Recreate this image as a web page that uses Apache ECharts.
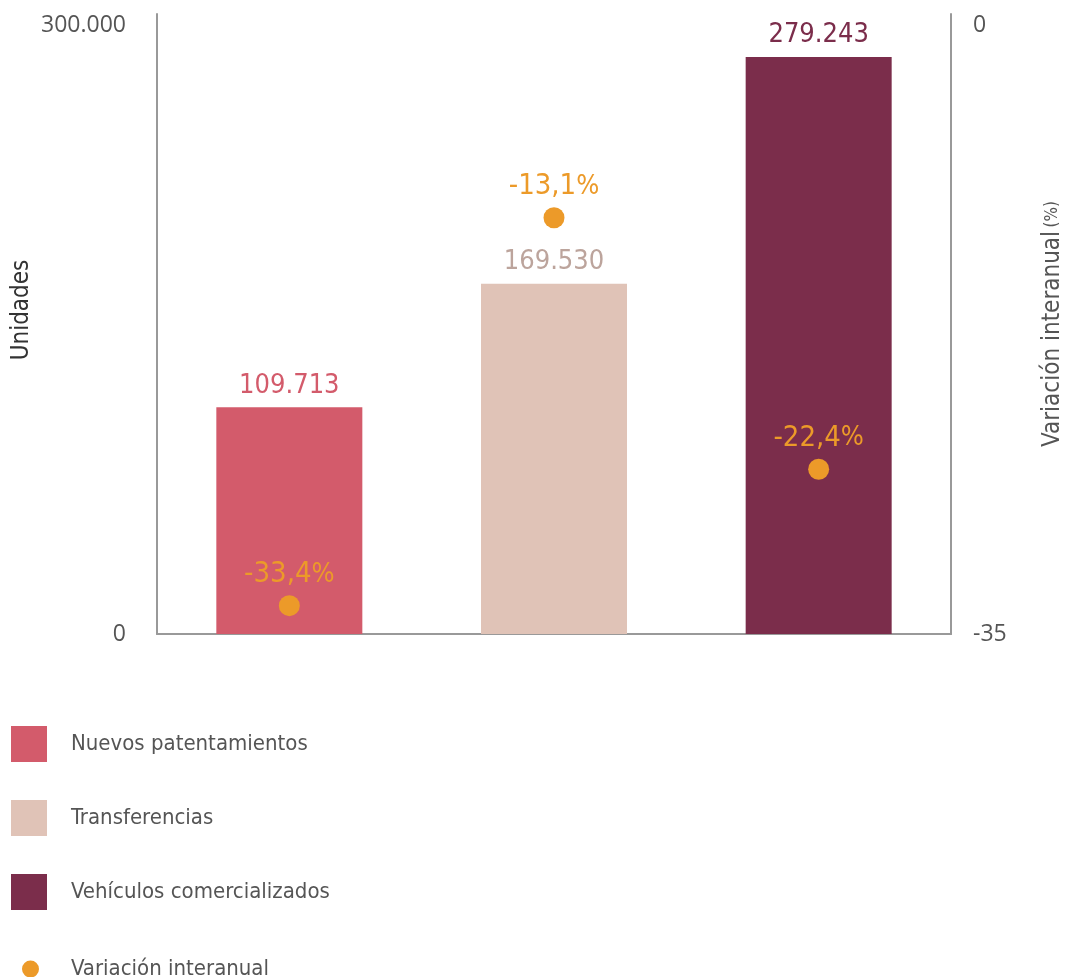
<!DOCTYPE html>
<html>
<head>
<meta charset="utf-8">
<script src="https://cdn.jsdelivr.net/npm/echarts@6/dist/echarts.min.js"></script>
<style>
  html, body { margin: 0; padding: 0; background: #fff; }
  #chart { width: 1074px; height: 977px; }
</style>
</head>
<body>
<div id="chart"></div>
<script>
const categories = ['Nuevos patentamientos', 'Transferencias', 'Vehículos comercializados'];
const unidades = [109713, 169530, 279243];
// dot positions as drawn on the right axis, and the percentages printed over them
const variacionPos = [-33.4, -11.5, -25.7];
const variacionText = ['-33,4', '-13,1', '-22,4'];
const leftAxisRange = [0, 300000];
const rightAxisRange = [-35, 0];

const barColors = ['#D35B6B', '#E0C3B7', '#7B2D4B'];
const barLabelColors = ['#D35B6B', '#BCA49C', '#7B2D4B'];
const dotColor = '#EC9A29';
const condensed = "'DejaVu Sans Condensed', 'Liberation Sans Narrow', sans-serif";

function fmtMiles(v) {
    return String(v).replace(/\B(?=(\d{3})+(?!\d))/g, '.');
}

const chart = echarts.init(document.getElementById('chart'));

const barSeries = categories.map((name, i) => ({
    name: name,
    type: 'bar',
    barWidth: 146,
    barGap: '-100%',
    data: categories.map((c, j) => (j === i ? unidades[i] : '-')),
    itemStyle: { color: barColors[i] },
    label: {
        show: true,
        position: 'top',
        distance: 8,
        formatter: p => fmtMiles(p.value),
        color: barLabelColors[i],
        fontFamily: condensed,
        fontSize: 27
    }
}));

const option = {
    animation: false,
    grid: { left: 157, right: 123, top: 14, bottom: 343, outerBoundsMode: 'none', containLabel: false },
    legend: [{
        orient: 'vertical',
        left: 11,
        top: 726,
        padding: 0,
        itemWidth: 36,
        itemHeight: 36,
        itemGap: 38,
        icon: 'rect',
        data: categories,
        textStyle: { color: '#555', fontSize: 22, fontFamily: condensed, padding: [0, 0, 0, 19] }
    }, {
        orient: 'vertical',
        left: 22,
        top: 958,
        padding: 0,
        itemWidth: 17,
        itemHeight: 17,
        icon: 'circle',
        data: ['Variación interanual'],
        textStyle: { color: '#555', fontSize: 22, fontFamily: condensed, padding: [0, 0, 0, 27] }
    }],
    xAxis: {
        type: 'category',
        data: categories,
        axisLine: { lineStyle: { color: '#999', width: 2 } },
        axisTick: { show: false },
        axisLabel: { show: false }
    },
    yAxis: [{
        type: 'value',
        min: leftAxisRange[0],
        max: leftAxisRange[1],
        interval: 300000,
        position: 'left',
        name: 'Unidades',
        nameLocation: 'middle',
        nameGap: 123,
        nameMoveOverlap: false,
        nameTextStyle: { color: '#333', fontSize: 24, fontFamily: condensed, padding: [0, 0, 0, 28] },
        axisLine: { show: true, lineStyle: { color: '#999', width: 2 } },
        axisTick: { show: false },
        splitLine: { show: false },
        axisLabel: {
            color: '#555',
            fontSize: 23,
            fontFamily: 'Open Sans',
            margin: 31,
            verticalAlignMaxLabel: 'top',
            formatter: v => fmtMiles(v)
        }
    }, {
        type: 'value',
        min: rightAxisRange[0],
        max: rightAxisRange[1],
        interval: 35,
        position: 'right',
        name: '{t|Variación interanual} {s|(%)}',
        nameLocation: 'middle',
        nameGap: 90,
        nameRotate: 90,
        nameMoveOverlap: false,
        nameTextStyle: {
            rich: {
                t: { color: '#555', fontSize: 24, fontFamily: condensed },
                s: { color: '#555', fontSize: 17, fontFamily: condensed }
            }
        },
        axisLine: { show: true, lineStyle: { color: '#999', width: 2 } },
        axisTick: { show: false },
        splitLine: { show: false },
        axisLabel: {
            color: '#555',
            fontSize: 23,
            fontFamily: 'Open Sans',
            margin: 22,
            verticalAlignMaxLabel: 'top'
        }
    }],
    series: [...barSeries, {
        name: 'Variación interanual',
        type: 'scatter',
        yAxisIndex: 1,
        symbol: 'circle',
        symbolSize: 21,
        data: variacionPos,
        itemStyle: { color: dotColor, opacity: 1 },
        label: {
            show: true,
            position: 'top',
            distance: 6,
            formatter: p => '{n|' + variacionText[p.dataIndex] + '}{p|%}',
            rich: {
                n: { color: dotColor, fontSize: 29, fontFamily: condensed },
                p: { color: dotColor, fontSize: 27, fontFamily: condensed, fontWeight: 'lighter' }
            }
        }
    }]
};

chart.setOption(option);
</script>
</body>
</html>
